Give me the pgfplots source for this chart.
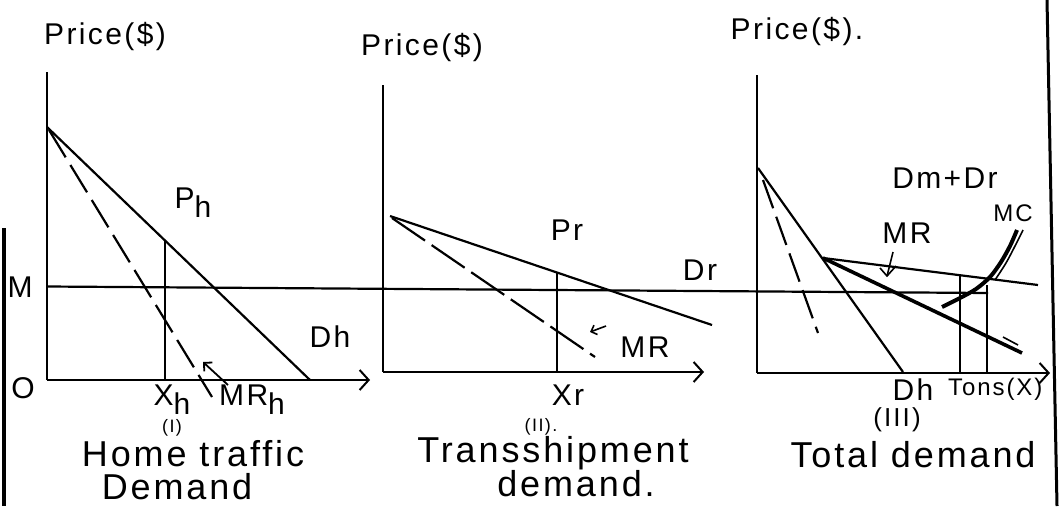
\documentclass[border=0pt]{standalone}
\usepackage{pgfplots}
\pgfplotsset{compat=1.18}
\usetikzlibrary{arrows.meta}
\usepackage{fontspec}
\setmainfont{Liberation Sans}
\newfontfamily\hand[LetterSpace=8]{Liberation Sans}
\newcommand\sub[1]{\raisebox{-0.3em}{#1}}
\tikzset{
  lbl/.style={font=\hand\fontsize{30}{32}\selectfont, inner sep=0pt},
  captn/.style={font=\hand\fontsize{36}{38}\selectfont, inner sep=0pt, align=center},
  barb/.style={-{Straight Barb[length=9pt,width=20pt,line width=2pt]}},
}

\begin{document}
\begin{tikzpicture}
\clip (0,0) rectangle (1062pt,506pt);
\begin{axis}[
  at={(0,0)}, anchor=south west,
  scale only axis, width=1062pt, height=506pt,
  xmin=0, xmax=1062, ymin=0, ymax=506, y dir=reverse,
  hide axis, clip=false,
  cycle list={{black, solid, line width=2.2pt, no markers}},
  every axis plot/.append style={black, line width=2.2pt, no markers},
]
% borders of the scan
\addplot[black, line width=3.5pt] coordinates {(4,228) (4,506)};
\addplot[black, line width=3pt] coordinates {(1047,0) (1057,506)};

% common horizontal line M
\addplot coordinates {(47,286.5) (988,293)};

% ---- panel (I): home traffic
\addplot coordinates {(47,380) (47,72)};
\addplot[black, barb] coordinates {(47,380) (370,380)};
\addplot coordinates {(47,127) (310,380)};             % Dh
\addplot[black, dash pattern=on 32pt off 9pt] coordinates {(49,130) (212,397)}; % MRh
\addplot coordinates {(165,380) (165,241)};            % Xh
\addplot[black, -{Straight Barb[length=6pt,width=12pt]}, line width=1.8pt] coordinates {(228,385) (203,362)};

% ---- panel (II): transshipment
\addplot coordinates {(383,85) (383,372)};
\addplot[black, barb] coordinates {(383,372) (704,372)};
\addplot coordinates {(390,216) (712,325)};            % Dr
\addplot[black, dash pattern=on 40pt off 8pt] coordinates {(392,218) (595,357)}; % MR
\addplot coordinates {(557,372) (557,272)};            % Xr
\addplot[black, -{Straight Barb[length=5pt,width=10pt]}, line width=1.6pt] coordinates {(606,326) (590,332)};

% ---- panel (III): total demand
\addplot coordinates {(757,75) (757,373)};
\addplot[black, barb] coordinates {(757,373) (1050,373)};
\addplot coordinates {(758,168) (903,372)};            % Dh
\addplot[black, dash pattern=on 30pt off 9pt] coordinates {(763,180) (818,333)}; % MRh
\addplot coordinates {(823,258) (1038,285)};           % Dm+Dr
\addplot[black, line width=3.6pt] coordinates {(823,258) (1022,353)}; % MR
\addplot[black, line width=1.6pt] coordinates {(1003,337) (1018,345)};
\addplot coordinates {(960,373) (960,275)};
\addplot coordinates {(987,373) (987,285)};
\addplot[black, smooth, line width=4pt] coordinates {(942,307) (960,298) (976,289) (990,277) (1001,262) (1010,246) (1017,230)};
\addplot[black, smooth, line width=1.6pt] coordinates {(995,280) (1006,263) (1015,246) (1023,230)};
\addplot[black, line width=1.6pt] coordinates {(893,252) (887,276)};
\addplot[black, line width=1.6pt] coordinates {(880,268) (887,276) (896,266)};

% ---- labels
\node[lbl] at (105,37) {Price(\$)};
\node[lbl] at (193,203) {P\sub{h}};
\node[lbl] at (20,287) {M};
\node[lbl] at (23,388) {O};
\node[lbl] at (330,337) {Dh};
\node[lbl] at (172,400) {X\sub{h}};
\node[lbl] at (252,400) {MR\sub{h}};
\node[lbl, font=\hand\fontsize{18}{20}\selectfont] at (172,428) {(I)};
\node[captn] at (193,454) {Home traffic};
\node[captn] at (177,487) {Demand};

\node[lbl] at (422,48) {Price(\$)};
\node[lbl] at (567,230) {Pr};
\node[lbl] at (700,270) {Dr};
\node[lbl] at (645,347) {MR};
\node[lbl] at (568,395) {Xr};
\node[lbl, font=\hand\fontsize{18}{20}\selectfont] at (541,427) {(II).};
\node[captn] at (553,453) {Transshipment};
\node[captn] at (576,484) {demand.};

\node[lbl] at (797,32) {Price(\$).};
\node[lbl] at (945,178) {Dm+Dr};
\node[lbl, font=\hand\fontsize{24}{26}\selectfont] at (1013,213) {MC};
\node[lbl] at (907,233) {MR};
\node[lbl] at (913,390) {Dh};
\node[lbl, anchor=west, font=\hand\fontsize{24}{26}\selectfont] at (948,389) {Tons(X)};
\node[lbl, font=\hand\fontsize{26}{28}\selectfont] at (897,420) {(III)};
\node[captn] at (913,455) {Total demand};
\end{axis}
\end{tikzpicture}
\end{document}
